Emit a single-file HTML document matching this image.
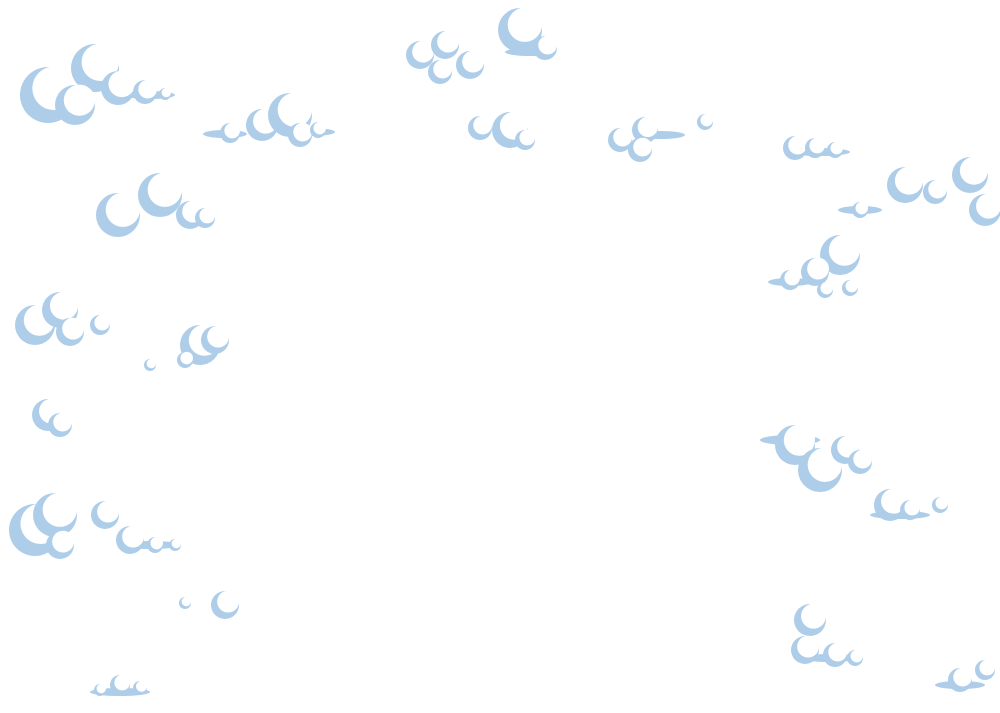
<!DOCTYPE html>
<html><head><meta charset="utf-8"><style>
html,body{margin:0;padding:0;background:#fff;width:1000px;height:713px;overflow:hidden}
</style></head><body>
<svg width="1000" height="713" viewBox="0 0 1000 713" xmlns="http://www.w3.org/2000/svg">
<g id="tails" fill="#aecde9">
<ellipse cx="150" cy="95" rx="25" ry="4"/>
<ellipse cx="225" cy="134" rx="22" ry="4"/>
<ellipse cx="310" cy="132" rx="25" ry="4"/>
<ellipse cx="530" cy="52" rx="25" ry="4"/>
<ellipse cx="660" cy="135" rx="25" ry="4"/>
<ellipse cx="820" cy="152" rx="30" ry="4"/>
<ellipse cx="860" cy="210" rx="22" ry="4"/>
<ellipse cx="790" cy="282" rx="22" ry="4"/>
<ellipse cx="790" cy="440" rx="30" ry="5"/>
<ellipse cx="900" cy="515" rx="30" ry="4"/>
<ellipse cx="150" cy="545" rx="30" ry="4"/>
<ellipse cx="830" cy="658" rx="30" ry="4"/>
<ellipse cx="120" cy="692" rx="30" ry="4"/>
<ellipse cx="960" cy="685" rx="25" ry="4"/>
</g>
<g id="clouds"></g>
</svg>
<script>
const C=[
[48,95,28],[95,68,24],[118,88,17],[145,92,12],[165,94,6],[75,105,20],
[230,133,10],[262,125,16],[290,115,22],[300,135,12],[318,130,8],
[420,55,14],[445,45,14],[440,72,12],[470,65,14],[520,30,22],[545,48,12],
[480,128,12],[510,130,18],[525,140,10],
[620,140,12],[645,130,13],[640,150,12],[705,122,8],
[795,148,12],[815,148,10],[835,150,8],
[860,210,8],[905,185,18],[935,192,12],[970,175,18],[985,210,16],
[118,215,22],[160,195,22],[190,215,14],[205,218,10],
[840,255,20],[815,272,14],[790,280,10],[825,290,8],[850,288,8],
[35,325,20],[60,310,18],[70,332,14],[100,325,10],
[200,345,20],[215,340,14],[150,365,6],[185,360,8],
[48,415,16],[60,425,12],
[795,445,20],[820,470,22],[845,450,14],[860,462,12],[890,505,16],[910,510,10],[940,505,8],
[35,530,26],[55,515,22],[60,545,14],[105,515,14],[130,540,14],[155,545,8],[175,545,6],
[225,605,14],[185,603,6],
[810,620,16],[805,650,14],[835,655,12],[855,658,8],
[120,685,10],[140,688,7],[100,690,6],
[960,680,12],[985,670,10]
];
const g=document.getElementById('clouds');let s='';
for(const [x,y,r] of C){s+=`<circle cx="${x}" cy="${y}" r="${r}" fill="#aecde9"/><circle cx="${x+r*0.22}" cy="${y-r*0.24}" r="${r*0.78}" fill="#fff"/>`;}
g.innerHTML=s;
</script>
</body></html>
